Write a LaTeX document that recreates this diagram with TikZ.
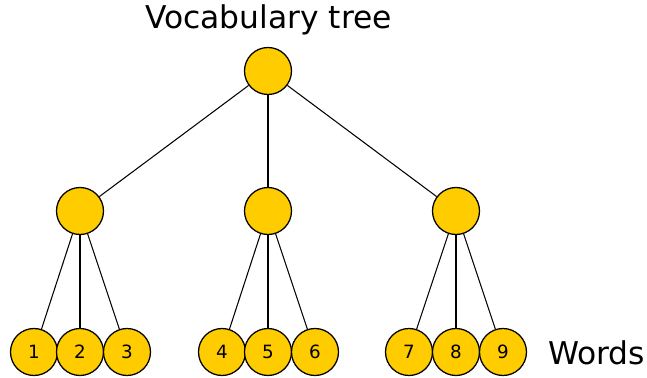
\documentclass[tikz,border=0pt]{standalone}
\usepackage{fontspec}
\setmainfont{DejaVu Sans}
\definecolor{nodegold}{HTML}{FFCC00}
\begin{document}
\begin{tikzpicture}[
  x=0.025cm, y=-0.025cm,
  vnode/.style={circle, draw, fill=nodegold, line width=0.9pt, minimum size=1.175cm, inner sep=0pt, font=\fontsize{13}{15}\selectfont},
  caption/.style={anchor=base, font=\fontsize{22.3}{27}\selectfont},
  edge/.style={line width=0.75pt}
]
\useasboundingbox (0,0) rectangle (647,377);
\node[caption] (title) at (268.5,28) {Vocabulary tree};
\node[vnode] (root) at (268,71) {};
\node[vnode] (a) at (80,211) {};
\node[vnode] (b) at (268,211) {};
\node[vnode] (c) at (456,211) {};
% leaves
\node[vnode] (w1) at (34,352) {1};
\node[vnode] (w2) at (80,352) {2};
\node[vnode] (w3) at (127,352) {3};
\node[vnode] (w4) at (222,352) {4};
\node[vnode] (w5) at (268,352) {5};
\node[vnode] (w6) at (315,352) {6};
\node[vnode] (w7) at (409,352) {7};
\node[vnode] (w8) at (456,352) {8};
\node[vnode] (w9) at (503,352) {9};
\node[caption] (words) at (596.5,364) {Words};
\draw[edge] (root) -- (a);
\draw[edge] (root) -- (b);
\draw[edge] (root) -- (c);
\draw[edge] (a) -- (w1);
\draw[edge] (a) -- (w2);
\draw[edge] (a) -- (w3);
\draw[edge] (b) -- (w4);
\draw[edge] (b) -- (w5);
\draw[edge] (b) -- (w6);
\draw[edge] (c) -- (w7);
\draw[edge] (c) -- (w8);
\draw[edge] (c) -- (w9);
\end{tikzpicture}
\end{document}
